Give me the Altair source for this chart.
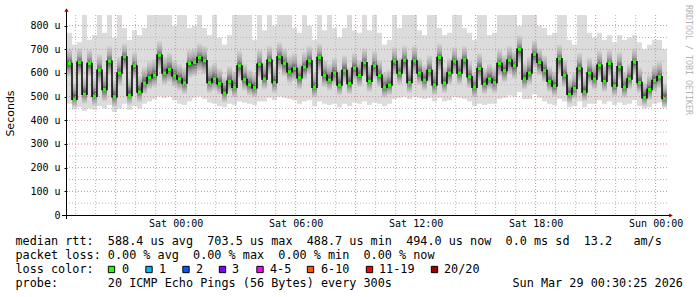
import altair as alt
import pandas as pd

# ---------------- data (microseconds) ----------------
median_us = [640, 489, 645, 510, 640, 502, 612, 530, 650, 500,
             600, 668, 506, 630, 520, 557, 580, 590, 675, 600,
             615, 588, 575, 558, 640, 645, 665, 652, 560, 575,
             555, 515, 565, 540, 630, 572, 550, 538, 637, 575,
             654, 560, 668, 640, 605, 619, 580, 625, 651, 540,
             665, 590, 570, 600, 549, 610, 556, 620, 590, 643,
             565, 630, 590, 540, 549, 650, 600, 654, 560, 651,
             600, 570, 610, 550, 665, 558, 600, 650, 600, 655,
             584, 540, 619, 553, 575, 560, 640, 610, 654, 630,
             700, 575, 600, 679, 645, 610, 565, 545, 660, 590,
             510, 535, 620, 520, 600, 575, 633, 565, 640, 545,
             626, 540, 575, 647, 560, 495, 530, 568, 584, 492]

smoke_hi_us = [770, 720, 730, 845, 740, 760, 845, 770, 845, 750,
               845, 790, 740, 780, 760, 790, 845, 845, 845, 845,
               845, 800, 845, 845, 790, 800, 845, 790, 760, 845,
               750, 720, 760, 845, 845, 845, 845, 740, 845, 780,
               845, 800, 845, 845, 845, 790, 770, 845, 800, 740,
               845, 780, 845, 790, 750, 790, 845, 780, 770, 845,
               780, 845, 770, 720, 740, 845, 790, 845, 845, 845,
               780, 760, 845, 845, 790, 760, 770, 845, 845, 790,
               770, 740, 845, 845, 760, 770, 845, 845, 845, 845,
               800, 845, 845, 845, 800, 790, 760, 770, 845, 845,
               740, 720, 845, 845, 770, 750, 770, 740, 760, 730,
               760, 740, 750, 760, 730, 700, 720, 740, 740, 700]

smoke_lo_us = [470, 445, 455, 440, 450, 445, 460, 450, 465, 435,
               450, 470, 445, 460, 450, 470, 480, 490, 500, 495,
               500, 485, 470, 465, 480, 495, 500, 490, 475, 470,
               460, 455, 470, 465, 480, 475, 470, 465, 480, 480,
               495, 485, 500, 495, 490, 485, 470, 480, 485, 460,
               480, 470, 465, 470, 455, 470, 460, 475, 470, 480,
               465, 475, 470, 460, 470, 490, 495, 500, 490, 500,
               495, 490, 495, 480, 495, 480, 485, 500, 495, 490,
               480, 460, 470, 465, 470, 470, 490, 495, 505, 500,
               520, 490, 490, 510, 495, 480, 470, 465, 490, 480,
               455, 460, 480, 455, 470, 470, 485, 470, 480, 465,
               475, 465, 470, 485, 460, 450, 455, 470, 475, 455]

core_lo_us = [585, 455, 590, 470, 585, 460, 555, 480, 590, 455,
              545, 610, 465, 575, 475, 510, 530, 540, 615, 550,
              560, 540, 525, 510, 580, 585, 605, 595, 515, 525,
              510, 475, 520, 495, 575, 525, 505, 495, 580, 530,
              595, 515, 610, 585, 555, 565, 530, 570, 595, 495,
              605, 540, 525, 550, 505, 560, 510, 565, 540, 585,
              520, 575, 540, 495, 505, 590, 550, 595, 515, 595,
              550, 525, 560, 505, 605, 515, 550, 595, 550, 600,
              535, 495, 565, 510, 530, 515, 585, 560, 595, 575,
              640, 530, 550, 620, 590, 560, 520, 500, 600, 540,
              470, 490, 565, 480, 550, 530, 580, 520, 585, 500,
              570, 495, 530, 590, 515, 460, 485, 520, 535, 455]

core_hi_us = [705, 560, 705, 580, 700, 575, 680, 600, 715, 570,
              670, 725, 580, 690, 590, 625, 650, 660, 735, 670,
              685, 655, 640, 625, 700, 705, 725, 715, 630, 645,
              620, 585, 630, 610, 695, 640, 615, 600, 700, 645,
              715, 630, 730, 705, 675, 685, 645, 690, 715, 605,
              725, 655, 640, 665, 615, 675, 625, 685, 655, 705,
              635, 695, 655, 605, 615, 710, 665, 715, 630, 715,
              665, 635, 675, 620, 725, 625, 665, 710, 670, 715,
              650, 605, 685, 620, 640, 625, 700, 675, 715, 695,
              760, 645, 670, 740, 705, 675, 630, 610, 720, 655,
              575, 600, 685, 585, 665, 640, 695, 630, 700, 610,
              690, 605, 640, 705, 625, 560, 595, 635, 650, 555]

y_ticks = [0, 100, 200, 300, 400, 500, 600, 700, 800]
y_minor = [50, 150, 250, 350, 450, 550, 650, 750]
x_label_times = ["2026-03-28 00:00", "2026-03-28 06:00", "2026-03-28 12:00",
                 "2026-03-28 18:00", "2026-03-29 00:00"]

stats_line = "median rtt:  588.4 us avg  703.5 us max  488.7 us min  494.0 us now  0.0 ms sd  13.2   am/s"
loss_line = "packet loss: 0.00 % avg  0.00 % max  0.00 % min  0.00 % now"
color_line = "loss color:"
probe_line = "probe:       20 ICMP Echo Pings (56 Bytes) every 300s"
stamp_line = "Sun Mar 29 00:30:25 2026"
loss_labels = ["0", "1", "2", "3", "4-5", "6-10", "11-19", "20/20"]
loss_colors = ["#26ff00", "#00b8ff", "#0059ff", "#7e00ff", "#ff00ff", "#ff5500", "#ff0000", "#a10000"]

# ---------------- layout ----------------
W, H = 600, 200
MONO = "DejaVu Sans Mono"
box_x = [44.5, 82, 119, 155.5, 193, 243.5, 302.5, 367.5]      # legend box centres (px)
lab_x = [55, 92, 129, 165, 203, 254, 312, 377]                # legend label left (px)

START = pd.Timestamp("2026-03-27 18:34:00")
END = START + pd.Timedelta(hours=30)
STEP = (END - START) / len(median_us)


def ms(ts):
    return int(pd.Timestamp(ts).value // 10**6)


def nb(s):
    return s.replace(" ", "\u00a0")


t_start = [START + i * STEP for i in range(len(median_us))]
df = pd.DataFrame({
    "t0": [ms(t) for t in t_start],
    "t1": [ms(t + STEP) for t in t_start],
    "tm": [ms(t + STEP / 2) for t in t_start],
    "med": median_us,
    "lo": smoke_lo_us,
    "hi": smoke_hi_us,
    "clo": core_lo_us,
    "chi": core_hi_us,
})

xs = alt.Scale(type="utc", domain=[ms(START), ms(END)], nice=False)
ys = alt.Scale(domain=[0, 845], nice=False, zero=True)

xaxis = alt.Axis(values=[ms(t) for t in x_label_times],
                 labelExpr="utcFormat(datum.value, '%a %H:%M')",
                 labelFont=MONO, labelFontSize=10, labelColor="#000000",
                 labelPadding=3, labelFlush=False, labelOverlap=False,
                 ticks=False, domain=False, grid=False, title=None)
yaxis = alt.Axis(values=y_ticks,
                 labelExpr="datum.value == 0 ? '0\u00a0' : datum.value + '\u00a0u'",
                 labelFont=MONO, labelFontSize=10, labelColor="#000000",
                 labelPadding=4, labelFlush=False, labelOverlap=False,
                 ticks=True, tickSize=3, tickColor="#000000", tickWidth=1,
                 domain=False, grid=False, title=None)

base = alt.Chart(df)
X0 = alt.X("t0:T", scale=xs, axis=xaxis)

smoke = base.mark_bar(color="#dcdcdc", clip=True).encode(
    x=X0, x2="t1:T", y=alt.Y("lo:Q", scale=ys, axis=yaxis), y2="hi:Q")

grad = alt.Gradient(gradient="linear", x1=0, x2=0, y1=0, y2=1, stops=[
    alt.GradientStop(offset=0, color="#d6d6d6"),
    alt.GradientStop(offset=0.3, color="#a8a8a8"),
    alt.GradientStop(offset=0.55, color="#5a5a5a"),
    alt.GradientStop(offset=0.8, color="#a8a8a8"),
    alt.GradientStop(offset=1, color="#d6d6d6"),
])
core = base.mark_bar(color=grad, clip=True).encode(
    x=X0, x2="t1:T", y=alt.Y("clo:Q", scale=ys, axis=yaxis), y2="chi:Q")

hours = pd.date_range(START.ceil("h"), END, freq="h")
minor_v = pd.DataFrame({"t": [ms(h) for h in hours if h.hour % 3 != 0]})
major_v = pd.DataFrame({"t": [ms(h) for h in hours if h.hour % 3 == 0]})
minor_h = pd.DataFrame({"v": y_minor})
major_h = pd.DataFrame({"v": y_ticks[1:]})

GRID_MINOR = "#b8b8b8"
GRID_MAJOR = "#d88a8a"
g1 = alt.Chart(minor_v).mark_rule(color=GRID_MINOR, strokeDash=[1, 2], strokeWidth=1).encode(
    x=alt.X("t:T", scale=xs, axis=xaxis))
g2 = alt.Chart(minor_h).mark_rule(color=GRID_MINOR, strokeDash=[1, 2], strokeWidth=1).encode(
    y=alt.Y("v:Q", scale=ys, axis=yaxis))
g3 = alt.Chart(major_v).mark_rule(color=GRID_MAJOR, strokeDash=[1, 2], strokeWidth=1).encode(
    x=alt.X("t:T", scale=xs, axis=xaxis))
g4 = alt.Chart(major_h).mark_rule(color=GRID_MAJOR, strokeDash=[1, 2], strokeWidth=1).encode(
    y=alt.Y("v:Q", scale=ys, axis=yaxis))

line = base.mark_line(interpolate="step", color="#000000", strokeWidth=1.5, clip=True).encode(
    x=alt.X("tm:T", scale=xs, axis=xaxis), y=alt.Y("med:Q", scale=ys, axis=yaxis))
dots = base.mark_square(size=10, color="#26ff00", opacity=1, clip=True).encode(
    x=alt.X("tm:T", scale=xs, axis=xaxis), y=alt.Y("med:Q", scale=ys, axis=yaxis))

one = pd.DataFrame({"s": [""]})
AX = "#000000"
x_axis_line = alt.Chart(one).mark_rule(color=AX, strokeWidth=1).encode(
    x=alt.value(-5), x2=alt.value(W + 4), y=alt.value(H + 0.5))
y_axis_line = alt.Chart(one).mark_rule(color=AX, strokeWidth=1).encode(
    x=alt.value(-0.5), y=alt.value(-6), y2=alt.value(H + 4))
arrow_up = alt.Chart(one).mark_point(shape="triangle-up", filled=True, size=18,
                                     color="#990000", opacity=1).encode(
    x=alt.value(-0.5), y=alt.value(-5))
arrow_right = alt.Chart(one).mark_point(shape="triangle-right", filled=True, size=18,
                                        color="#990000", opacity=1).encode(
    x=alt.value(W + 4), y=alt.value(H + 0.5))


def txt(s, x, y, size=11.8, font=MONO, align="left", baseline="alphabetic", angle=0, color="#000000"):
    return alt.Chart(pd.DataFrame({"s": [nb(s)]})).mark_text(
        font=font, fontSize=size, align=align, baseline=baseline, angle=angle, color=color
    ).encode(text="s:N", x=alt.value(x), y=alt.value(y))


texts = [
    txt("Seconds", -56.5, 98.5, size=11, font="DejaVu Sans", align="center",
        baseline="middle", angle=270),
    txt("RRDTOOL / TOBI OETIKER", 621, -10, size=8.3, align="left", baseline="middle",
        angle=90, color="#b4b4b4"),
    txt(stats_line, -51.5, 230),
    txt(loss_line, -51.5, 244),
    txt(color_line, -51.5, 258),
    txt(probe_line, -51.5, 272),
    txt(stamp_line, 445.5, 272),
]

legend_layers = []
for lab, col, bx, lx in zip(loss_labels, loss_colors, box_x, lab_x):
    legend_layers.append(
        alt.Chart(one).mark_square(size=40, color=col, opacity=1, stroke="#000000",
                                   strokeWidth=1).encode(x=alt.value(bx), y=alt.value(254.5)))
    legend_layers.append(txt(lab, lx, 258))

chart = alt.layer(
    smoke, core, g1, g2, g3, g4, line, dots,
    x_axis_line, y_axis_line, arrow_up, arrow_right,
    *texts, *legend_layers
).properties(
    width=W, height=H,
    padding={"left": 67, "top": 15, "right": 30, "bottom": 82},
    autosize=alt.AutoSizeParams(type="none"),
    background="#ffffff",
).configure_view(strokeWidth=0)

chart.save("out.html", embed_options={"renderer": "svg", "actions": False})
